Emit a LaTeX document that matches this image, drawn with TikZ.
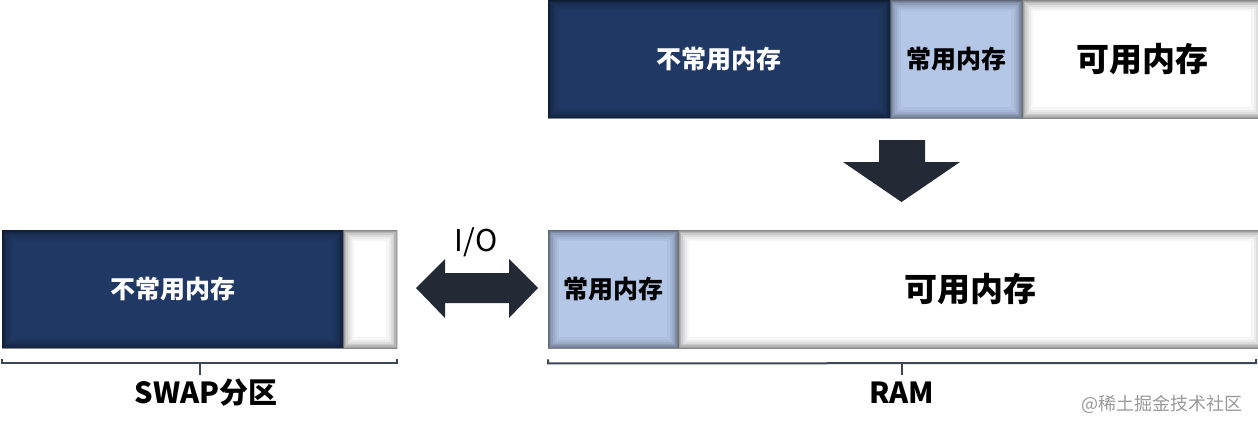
\documentclass[tikz,border=0pt]{standalone}
\usepackage{fontspec}
\setmainfont{Noto Sans CJK SC}
\definecolor{navy}{HTML}{203864}
\definecolor{lblue}{HTML}{B4C7E7}
\definecolor{arrowc}{HTML}{232A35}
\definecolor{bracec}{HTML}{3E4656}
\tikzset{
  membox/.style 2 args={draw=none, inner sep=0pt, anchor=north west,
    minimum width=#1pt, minimum height=#2pt},
  darkbox/.style={fill=navy, text=white, font=\bfseries\fontsize{25}{29}\selectfont},
  usedbox/.style={fill=lblue, text=black, font=\bfseries\fontsize{25}{29}\selectfont},
  freebox/.style={fill=white, text=black, font=\bfseries\fontsize{33}{38}\selectfont},
  emptybox/.style={fill=white},
  bracel/.style={draw=bracec, line width=2pt},
  caption/.style={font=\bfseries\fontsize{29}{32}\selectfont, text=black},
  blockarrow/.style={fill=arrowc, draw=none}
}
\newcommand\innershade[1]{%
  \begin{scope}
    \clip (#1.south west) rectangle (#1.north east);
    \foreach \w/\o in {22/0.035,17/0.045,13/0.06,9/0.08,6/0.1,3.5/0.12,1.5/0.14}{
      \draw[black, opacity=\o, line width=\w pt] (#1.south west) rectangle (#1.north east);
    }
  \end{scope}}
\begin{document}
\begin{tikzpicture}[x=1pt, y=-1pt]
\useasboundingbox (0,0) rectangle (1258,429);
% top row (before)
\node[membox={342}{118}, darkbox] (t1) at (548,0) {不常用内存};
\node[membox={132}{118}, usedbox] (t2) at (890,0) {常用内存};
\node[membox={240}{118}, freebox] (t3) at (1022,0) {可用内存};
\innershade{t1}\innershade{t2}\innershade{t3}
% down arrow
\fill[blockarrow] (879,140) -- (925,140) -- (925,162) -- (960,162) -- (901.5,202)
  -- (843,162) -- (879,162) -- cycle;
% swap partition
\node[membox={341}{118}, darkbox] (s1) at (2,230) {不常用内存};
\node[membox={54}{118}, emptybox] (s2) at (343,230) {};
\innershade{s1}\innershade{s2}
% ram after
\node[membox={130}{118}, usedbox] (r1) at (548,230) {常用内存};
\node[membox={584}{118}, freebox] (r2) at (678,230) {可用内存};
\innershade{r1}\innershade{r2}
% double arrow
\fill[blockarrow] (416,288) -- (445,259) -- (445,273) -- (509,273) -- (509,259)
  -- (538,288) -- (509,318) -- (509,303) -- (445,303) -- (445,318) -- cycle;
\node[font=\fontsize{30}{34}\selectfont] (io) at (476,242) {I/O};
% braces
\coordinate (sbl) at ([yshift=-15pt]s1.south west);
\coordinate (sbr) at ([yshift=-15pt]s2.south east);
\draw[bracel] ([yshift=4pt]sbl) -- (sbl) -- (sbr) -- ([yshift=4pt]sbr);
\coordinate (sbc) at (199.5,363);
\draw[bracel] (sbc) -- ++(0,12);
\node[caption] (swap) at (206,393) {SWAP分区};
\coordinate (rbl) at ([yshift=-15pt]r1.south west);
\coordinate (rbr) at (1256,363);
\draw[bracel] ([yshift=4pt]rbl) -- (rbl) -- (rbr) -- ([yshift=4pt]rbr);
\coordinate (rbc) at (902,363);
\draw[bracel] (rbc) -- ++(0,12);
\node[caption] (ram) at (902,393) {RAM};
% watermark
\node[text=black!40, font=\fontsize{18}{20}\selectfont] (wm) at (1162,404) {@稀土掘金技术社区};
\end{tikzpicture}
\end{document}
